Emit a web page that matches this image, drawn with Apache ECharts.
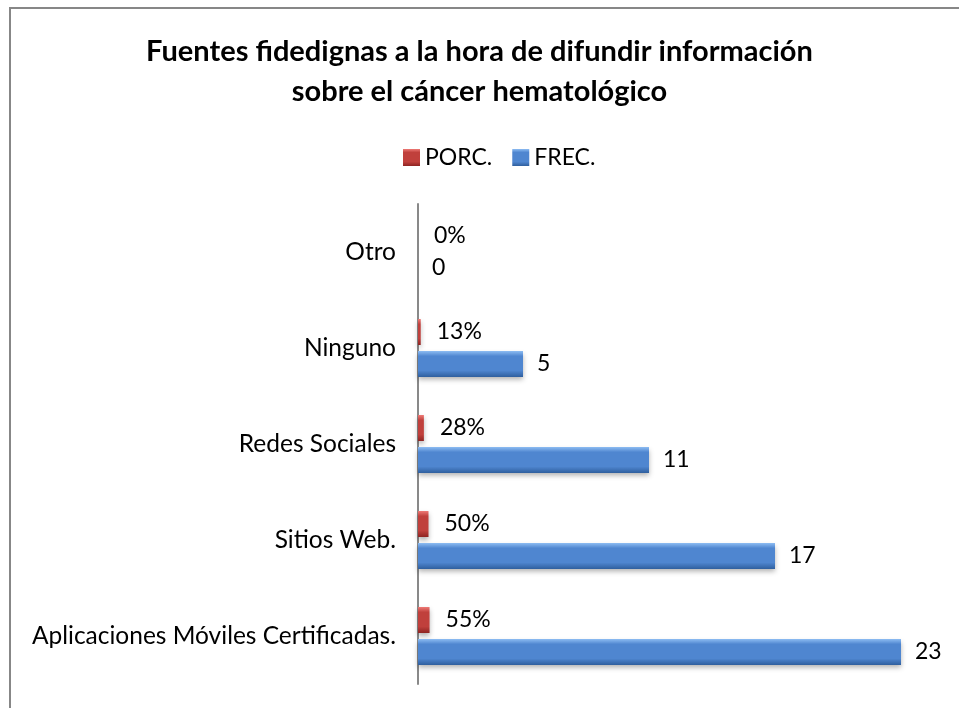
<!DOCTYPE html>
<html>
<head>
<meta charset="utf-8">
<script src="https://cdn.jsdelivr.net/npm/echarts@6/dist/echarts.min.js"></script>
<style>
  html, body { margin: 0; padding: 0; background: #fff; }
  #main { width: 959px; height: 708px; }
</style>
</head>
<body>
<div id="main"></div>
<script>
// datos
var categorias = ['Aplicaciones Móviles Certificadas.', 'Sitios Web.', 'Redes Sociales', 'Ninguno', 'Otro'];
var frecuencia = [23, 17, 11, 5, 0];
var porcentaje = [0.55, 0.50, 0.28, 0.13, 0];

var FONT = 'Lato';

var chart = echarts.init(document.getElementById('main'));

function bevel(top, mid, bottom) {
  return new echarts.graphic.LinearGradient(0, 0, 0, 1, [
    { offset: 0, color: top },
    { offset: 0.2, color: mid },
    { offset: 0.75, color: mid },
    { offset: 1, color: bottom }
  ]);
}

var option = {
  backgroundColor: '#fff',
  animation: false,
  title: {
    text: 'Fuentes fidedignas a la hora de difundir información\nsobre el cáncer hematológico',
    left: 'center',
    top: 27,
    textStyle: {
      fontFamily: FONT,
      fontWeight: 'bold',
      fontSize: 29,
      lineHeight: 40,
      color: '#000'
    }
  },
  legend: {
    data: ['PORC.', 'FREC.'],
    top: 141,
    left: 398,
    itemWidth: 17,
    itemHeight: 17,
    itemGap: 20,
    icon: 'rect',
    textStyle: { fontFamily: FONT, fontSize: 23, color: '#000' }
  },
  grid: {
    left: 418,
    top: 204,
    width: 525,
    bottom: 24
  },
  xAxis: {
    type: 'value',
    min: 0,
    max: 25,
    show: false
  },
  yAxis: {
    type: 'category',
    data: categorias,
    axisLine: { show: true, lineStyle: { color: '#898989', width: 2 } },
    axisTick: { show: false },
    axisLabel: {
      margin: 22,
      fontFamily: FONT,
      fontSize: 24.5,
      color: '#000'
    }
  },
  graphic: [{
    type: 'rect',
    shape: { x: 10, y: 8, width: 960, height: 720 },
    style: { fill: 'none', stroke: '#878787', lineWidth: 2 },
    silent: true
  }],
  series: [{
    name: 'PORC.',
    type: 'bar',
    data: porcentaje,
    barWidth: 26,
    barGap: '23%',
    itemStyle: {
      color: bevel('#ee7a76', '#c0403c', '#8e2422'),
      shadowColor: 'rgba(0,0,0,0.3)',
      shadowBlur: 5,
      shadowOffsetY: 3
    },
    label: {
      show: true,
      position: 'right',
      distance: 16,
      fontFamily: FONT,
      fontSize: 23,
      color: '#000',
      formatter: function (p) { return Math.round(p.value * 100) + '%'; }
    }
  }, {
    name: 'FREC.',
    type: 'bar',
    data: frecuencia,
    barWidth: 26,
    barGap: '23%',
    itemStyle: {
      color: bevel('#8dbcf2', '#4f86d0', '#2f5f9e'),
      shadowColor: 'rgba(0,0,0,0.3)',
      shadowBlur: 5,
      shadowOffsetY: 3
    },
    label: {
      show: true,
      position: 'right',
      distance: 14,
      fontFamily: FONT,
      fontSize: 23,
      color: '#000'
    }
  }]
};

chart.setOption(option);
</script>
</body>
</html>
